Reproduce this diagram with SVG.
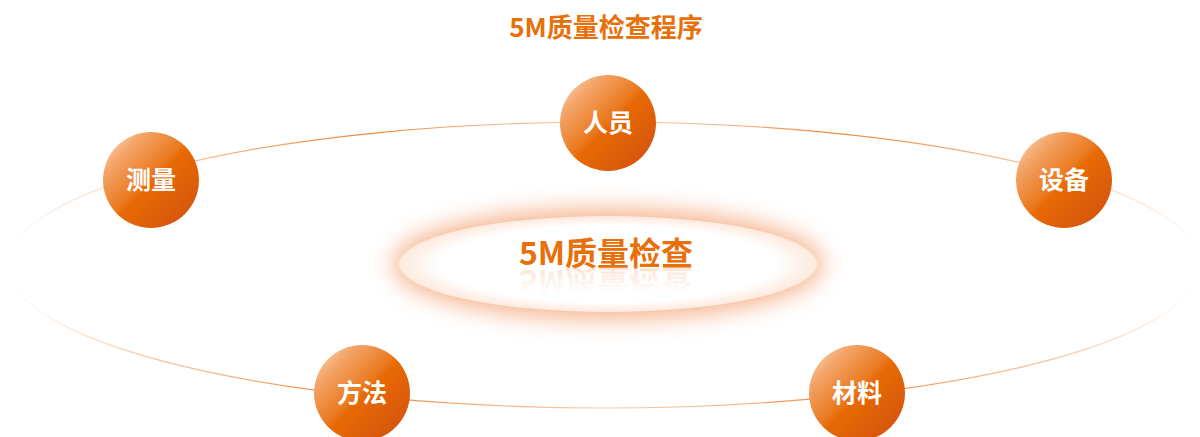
<svg xmlns="http://www.w3.org/2000/svg" width="1200" height="437" viewBox="0 0 1200 437">
  <defs>
    <style>
      .cjk { font-family: "Noto Sans CJK SC", "Noto Sans", sans-serif; font-weight: 700; }
      .title { fill: #e8700a; font-size: 26px; }
      .center { fill: #e8700a; font-size: 32px; }
      .nodeText { fill: #ffffff; font-size: 25px; }
      .ball { fill: url(#ballGrad); }
    </style>
    <linearGradient id="ballGrad" x1="0" y1="0" x2="1" y2="1">
      <stop offset="0" stop-color="#fde3cc"/>
      <stop offset="0.22" stop-color="#f3a468"/>
      <stop offset="0.47" stop-color="#ea7a20"/>
      <stop offset="0.52" stop-color="#e86a04"/>
      <stop offset="1" stop-color="#cf4f12"/>
    </linearGradient>
    <linearGradient id="ringGrad" x1="0" y1="0" x2="1" y2="0">
      <stop offset="0" stop-color="#f08a3a" stop-opacity="0"/>
      <stop offset="0.12" stop-color="#f08a3a" stop-opacity="0.45"/>
      <stop offset="0.3" stop-color="#ec7a26" stop-opacity="0.9"/>
      <stop offset="0.5" stop-color="#f0a060" stop-opacity="0.5"/>
      <stop offset="0.7" stop-color="#ec7a26" stop-opacity="0.9"/>
      <stop offset="0.88" stop-color="#f08a3a" stop-opacity="0.45"/>
      <stop offset="1" stop-color="#f08a3a" stop-opacity="0"/>
    </linearGradient>
    <radialGradient id="coreGrad" cx="0.5" cy="0.5" r="0.5">
      <stop offset="0.8" stop-color="#ffffff"/>
      <stop offset="1" stop-color="#fdeadd"/>
    </radialGradient>
    <linearGradient id="reflGrad" x1="0" y1="0" x2="0" y2="1">
      <stop offset="0.3" stop-color="#f4a06a" stop-opacity="0"/>
      <stop offset="1" stop-color="#f4a06a" stop-opacity="0.35"/>
    </linearGradient>
    <filter id="glow" x="-20%" y="-60%" width="140%" height="220%">
      <feGaussianBlur stdDeviation="12"/>
    </filter>
  </defs>

  <rect width="1200" height="437" fill="#ffffff"/>

  <text class="cjk title" x="606" y="37" text-anchor="middle">5M质量检查程序</text>

  <g id="connectors">
    <ellipse cx="604" cy="265" rx="596" ry="143" fill="none" stroke="url(#ringGrad)" stroke-width="1.2"/>
  </g>

  <g id="core">
    <ellipse cx="608" cy="264" rx="214" ry="54" fill="#f2a070" opacity="0.85" filter="url(#glow)"/>
    <ellipse cx="608" cy="264" rx="209" ry="48" fill="url(#coreGrad)"/>
    <text class="cjk center" x="606" y="265" text-anchor="middle">5M质量检查</text>
    <text class="cjk center" x="606" y="-270" text-anchor="middle" transform="scale(1,-1)" style="fill:url(#reflGrad)">5M质量检查</text>
  </g>

  <g id="node-renyuan">
    <circle class="ball" cx="608" cy="123" r="48"/>
    <text class="cjk nodeText" x="608" y="132" text-anchor="middle">人员</text>
  </g>
  <g id="node-celiang">
    <circle class="ball" cx="151" cy="180" r="48"/>
    <text class="cjk nodeText" x="151" y="189" text-anchor="middle">测量</text>
  </g>
  <g id="node-shebei">
    <circle class="ball" cx="1064" cy="180" r="48"/>
    <text class="cjk nodeText" x="1064" y="189" text-anchor="middle">设备</text>
  </g>
  <g id="node-fangfa">
    <circle class="ball" cx="362" cy="393" r="48"/>
    <text class="cjk nodeText" x="362" y="402" text-anchor="middle">方法</text>
  </g>
  <g id="node-cailiao">
    <circle class="ball" cx="857" cy="393" r="48"/>
    <text class="cjk nodeText" x="857" y="402" text-anchor="middle">材料</text>
  </g>
</svg>
